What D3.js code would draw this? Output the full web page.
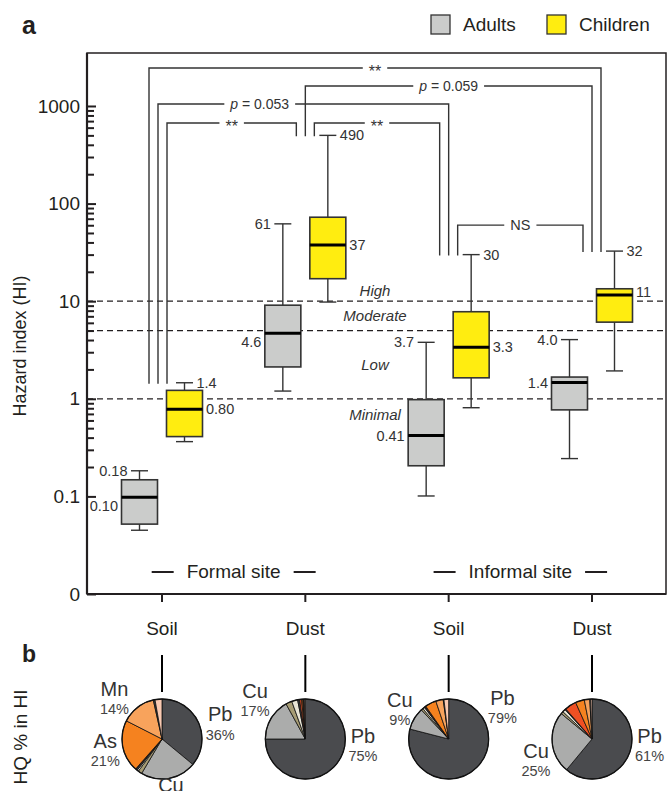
<!DOCTYPE html>
<html>
<head>
<meta charset="utf-8">
<script src="https://cdn.jsdelivr.net/npm/d3@7"></script>
<style>
body{margin:0;background:#fff}
text{font-family:"Liberation Sans",Arial,sans-serif;fill:#231f20}
</style>
</head>
<body>
<svg id="chart" width="667" height="791"></svg>
<script>
// ---- data ----
var categories = ["Soil","Dust","Soil","Dust"];
var sites = ["Formal site","Informal site"];
var groups = ["Adults","Children"];
// box stats per category: [low whisker, q1, median, q3, high whisker]
var adults = [[0.045,0.052,0.098,0.148,0.183],[1.2,2.12,4.7,9.1,62],[0.101,0.206,0.42,0.98,3.79],[0.244,0.77,1.47,1.67,4.04]];
var children = [[0.364,0.41,0.78,1.22,1.46],[9.8,17,37.6,72.5,500],[0.81,1.64,3.37,7.8,30],[1.93,6.1,11.6,13.4,32.6]];
var adultTop = ["0.18","61","3.7","4.0"];
var adultMed = ["0.10","4.6","0.41","1.4"];
var childTop = ["1.4","490","30","32"];
var childMed = ["0.80","37","3.3","11"];
var thresholds = [1,5,10];
var riskLevels = ["High","Moderate","Low","Minimal"];
var yTicks = [0.01,0.1,1,10,100,1000];
var yTickLabels = ["0","0.1","1","10","100","1000"];
// significance brackets between children boxes (category index)
var sigFrom = [0,1,0,0,1,2];
var sigTo = [3,3,2,1,2,3];
var sigLabel = ["**","p = 0.059","p = 0.053","**","**","NS"];
// HQ share (%) in HI, per pie
var elements = ["Pb","Cu","Zn","Ni","Cr","Cd","As","Mn","Co","Sb"];
var hqFormalSoil = [36,22.5,1.6,0.6,0.6,0.2,21,14,0.7,2.8];
var hqFormalDust = [75,17,2.5,2.4,0.8,0.8,0.5,0.3,0.3,0.4];
var hqInformalSoil = [79,9,0.8,0.8,0.4,0.3,4.5,3,0.3,1.9];
var hqInformalDust = [61,25,1,1.2,0.4,4.7,3.6,2.2,0.3,0.6];
var pieLabels = [["Pb","Cu","As","Mn"],["Cu","Pb"],["Cu","Pb"],["Cu","Pb"]];

// ---- layout ----
var svg = d3.select("#chart");
var plot = {left:87,right:666,top:53,bottom:594};
var y = d3.scaleLog().domain([0.01,3490]).range([plot.bottom,plot.top]);
var x = d3.scalePoint().domain(d3.range(categories.length)).range([162,592]);
var boxW = 36, boxOff = 22.5, capW = 17;
var ink = "#231f20";

// panel letters
svg.append("text").attr("x",22).attr("y",34).style("font-size","25px").style("font-weight","bold").text("a");
svg.append("text").attr("x",22).attr("y",662).style("font-size","23px").style("font-weight","bold").text("b");

// legend
var legendX = [431,547];
groups.forEach(function(g,i){
    svg.append("rect").attr("x",legendX[i]).attr("y",15).attr("width",19).attr("height",19)
        .style("fill",i?"#ffed10":"#cbcccb").style("stroke","#333").style("stroke-width",1.3);
    svg.append("text").attr("x",legendX[i]+32).attr("y",31).style("font-size","19px").text(g);
});

// frame
svg.append("rect").attr("x",plot.left).attr("y",plot.top).attr("width",plot.right-plot.left).attr("height",plot.bottom-plot.top)
    .style("fill","none").style("stroke",ink).style("stroke-width",1.5);
svg.append("line").attr("x1",plot.left).attr("x2",plot.left).attr("y1",plot.top).attr("y2",plot.bottom).style("stroke",ink).style("stroke-width",2.2);
svg.append("line").attr("x1",plot.left).attr("x2",plot.right).attr("y1",plot.bottom).attr("y2",plot.bottom).style("stroke",ink).style("stroke-width",2.2);

// y axis, ticks inward
var gy = svg.append("g").attr("transform","translate("+plot.left+",0)");
gy.call(d3.axisLeft(y).tickValues(yTicks).tickFormat(function(d,i){return yTickLabels[i];}).tickSizeInner(-9).tickSizeOuter(0).tickPadding(7));
var minor = y.ticks().filter(function(d){return d>0.1 && d<1000 && yTicks.indexOf(d)<0;});
var gm = svg.append("g").attr("transform","translate("+plot.left+",0)");
gm.call(d3.axisLeft(y).tickValues(minor).tickFormat("").tickSizeInner(-7).tickSizeOuter(0));
svg.selectAll(".domain").remove();
svg.selectAll(".tick line").style("stroke",ink).style("stroke-width",2);
gy.selectAll("text").style("font-size","19px").style("font-family","Liberation Sans, Arial, sans-serif").style("fill",ink);

svg.append("text").attr("transform","translate(26,346) rotate(-90)").attr("text-anchor","middle").style("font-size","18px").text("Hazard index (HI)");

// x ticks + labels
categories.forEach(function(c,i){
    svg.append("line").attr("x1",x(i)).attr("x2",x(i)).attr("y1",plot.bottom).attr("y2",plot.bottom+8).style("stroke",ink).style("stroke-width",2);
    svg.append("text").attr("x",x(i)).attr("y",635).attr("text-anchor","middle").style("font-size","19px").text(c);
});

// threshold lines
thresholds.forEach(function(t){
    svg.append("line").attr("x1",plot.left).attr("x2",plot.right).attr("y1",y(t)).attr("y2",y(t))
        .style("stroke",ink).style("stroke-width",1.2).style("stroke-dasharray","6,4");
});
var riskX = (x(1)+x(2))/2 - 2;
var riskY = [y(10)-5, y(Math.sqrt(50))+5, y(Math.sqrt(5))+5, y(1)+21];
riskLevels.forEach(function(r,i){
    svg.append("text").attr("x",riskX).attr("y",riskY[i]).attr("text-anchor","middle")
        .style("font-size","15px").style("font-style","italic").style("fill","#333").text(r);
});

// site labels
sites.forEach(function(s,i){
    var cx = (x(2*i)+x(2*i+1))/2;
    var t = svg.append("text").attr("x",cx).attr("y",578).attr("text-anchor","middle").style("font-size","19px").text(s);
    var hw = t.node().getComputedTextLength()/2;
    [-1,1].forEach(function(sd){
        var a = cx+sd*(hw+13), b = cx+sd*(hw+35);
        svg.append("line").attr("x1",a).attr("x2",b).attr("y1",572).attr("y2",572).style("stroke",ink).style("stroke-width",2);
    });
});

// boxes
function drawBox(stats,cx,fill,topLab,medLab,side,nudge){
    var g = svg.append("g");
    g.append("line").attr("x1",cx).attr("x2",cx).attr("y1",y(stats[0])).attr("y2",y(stats[4])).style("stroke","#333").style("stroke-width",1.4);
    [0,4].forEach(function(k){
        g.append("line").attr("x1",cx-capW/2).attr("x2",cx+capW/2).attr("y1",y(stats[k])).attr("y2",y(stats[k])).style("stroke","#333").style("stroke-width",1.4);
    });
    g.append("rect").attr("x",cx-boxW/2).attr("y",y(stats[3])).attr("width",boxW).attr("height",y(stats[1])-y(stats[3]))
        .style("fill",fill).style("stroke","#333").style("stroke-width",1.6);
    g.append("line").attr("x1",cx-boxW/2).attr("x2",cx+boxW/2).attr("y1",y(stats[2])).attr("y2",y(stats[2])).style("stroke","#000").style("stroke-width",3);
    var anchor = side<0?"end":"start";
    g.append("text").attr("x",cx+side*(capW/2+3.5)).attr("y",y(stats[4])).attr("dy","0.35em").attr("text-anchor",anchor)
        .style("font-size","14.5px").style("fill","#333").text(topLab);
    g.append("text").attr("x",cx+side*(boxW/2+3.5)).attr("y",y(stats[2])+nudge).attr("dy","0.35em").attr("text-anchor",anchor)
        .style("font-size","14.5px").style("fill","#333").text(medLab);
}
var adultNudge = [9,9,0,0], childNudge = [0,0,0,-3];
categories.forEach(function(c,i){
    drawBox(adults[i],x(i)-boxOff,"#cbcccb",adultTop[i],adultMed[i],-1,adultNudge[i]);
    drawBox(children[i],x(i)+boxOff,"#ffed10",childTop[i],childMed[i],1,childNudge[i]);
});

// significance brackets
var fromLane = [0,1,1,2,2,2], toLane = [2,1,1,0,0,0];
var levelY = [68,86,104,123,123];
var textPos = [0.5,0.5,0.35,0.5,0.5,0.5];
function laneX(cat,lane){ return x(cat)+(lane-1)*9-(cat===0?4:0); }
function legBottom(cat){ return y(children[cat][4])+1; }
sigLabel.forEach(function(lab,i){
    var x1 = laneX(sigFrom[i],fromLane[i]), x2 = laneX(sigTo[i],toLane[i]);
    var b1 = legBottom(sigFrom[i]), b2 = legBottom(sigTo[i]);
    var ly = i<levelY.length ? levelY[i] : Math.min(b1,b2)-27;
    var tx = x1+(x2-x1)*textPos[i];
    var t = svg.append("text").attr("x",tx).attr("y",ly).attr("text-anchor","middle").style("fill","#333");
    if(lab.indexOf("p =")===0){
        t.attr("dy","0.35em").style("font-size","14px");
        t.append("tspan").style("font-style","italic").text("p");
        t.append("tspan").text(lab.slice(1));
    } else if(lab==="**"){
        t.attr("dy","0.55em").style("font-size","16px").text(lab);
    } else {
        t.attr("dy","0.35em").style("font-size","14.5px").text(lab);
    }
    var hw = t.node().getComputedTextLength()/2;
    var path = "M"+x1+","+b1+"V"+ly+"H"+(tx-hw-6)+"M"+(tx+hw+6)+","+ly+"H"+x2+"V"+b2;
    svg.append("path").attr("d",path).style("fill","none").style("stroke","#333").style("stroke-width",1.4);
});

// ---- panel b: pies ----
svg.append("text").attr("transform","translate(27,737) rotate(-90)").attr("text-anchor","middle").style("font-size","19px").text("HQ % in HI");
var pieColors = ["#4a4b4e","#abacab","#a79c74","#e9e5d5","#3a3a3a","#ef5023","#f5821f","#f8a35c","#3a3a3a","#f9c9b1"];
var pies = [hqFormalSoil,hqFormalDust,hqInformalSoil,hqInformalDust];
var pieR = 40, pieY = 739;
var pie = d3.pie().sort(null).value(function(d){return d;});
var arc = d3.arc().innerRadius(0).outerRadius(pieR);
// label spots: angle (deg clockwise from top), distance
var spots = [
    {Pb:[76,60],Cu:[171,57],As:[258,58],Mn:[310,62]},
    {Cu:[307,63],Pb:[97,58]},
    {Cu:[301,57],Pb:[60,62]},
    {Cu:[249,60],Pb:[97,58]}
];
pies.forEach(function(vals,p){
    var cx = x(p);
    svg.append("line").attr("x1",cx).attr("x2",cx).attr("y1",655).attr("y2",692).style("stroke","#000").style("stroke-width",2);
    var g = svg.append("g").attr("transform","translate("+cx+","+pieY+")");
    g.selectAll("path").data(pie(vals)).enter().append("path").attr("d",arc)
        .style("fill",function(d,i){return pieColors[i];}).style("stroke","#111").style("stroke-width",0.8);
    g.append("circle").attr("r",pieR).style("fill","none").style("stroke","#111").style("stroke-width",1.3);
    pieLabels[p].forEach(function(el){
        var s = spots[p][el], a = s[0]*Math.PI/180;
        var lx = cx+Math.sin(a)*s[1], ly = pieY-Math.cos(a)*s[1];
        var v = vals[elements.indexOf(el)];
        svg.append("text").attr("x",lx).attr("y",ly-10).attr("dy","0.35em").attr("text-anchor","middle").style("font-size","20px").style("fill","#333").text(el);
        // the percentage of a label pushed below the page is not shown
        if(ly+10 < 785){
            svg.append("text").attr("x",lx).attr("y",ly+10).attr("dy","0.35em").attr("text-anchor","middle").style("font-size","14.5px").style("fill","#444").text(Math.round(v)+"%");
        }
    });
});
</script>
</body>
</html>
